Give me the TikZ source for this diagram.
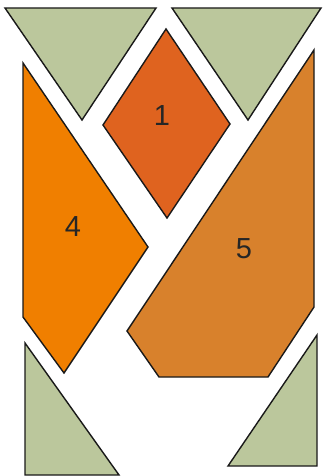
\documentclass[tikz,border=0pt]{standalone}
\usepackage{fontspec}
\setmainfont{Liberation Sans}
\begin{document}
\begin{tikzpicture}[x=1pt,y=-1pt,
  piece/.style={draw=black!90,line width=1.4pt,line join=miter},
  lbl/.style={font=\fontsize{29}{30}\selectfont,text=black!85,inner sep=0pt}]
\definecolor{sage}{HTML}{BBC79C}
\definecolor{dia}{HTML}{DF631F}
\definecolor{orfour}{HTML}{F07F00}
\definecolor{orfive}{HTML}{D8812C}
\useasboundingbox (0,0) rectangle (322,476);
% green triangles
\filldraw[piece,fill=sage] (5,8) -- (156,8) -- (82,120) -- cycle;
\filldraw[piece,fill=sage] (172,8) -- (321,8) -- (248,120) -- cycle;
\filldraw[piece,fill=sage] (25,343) -- (119,475) -- (25,475) -- cycle;
\filldraw[piece,fill=sage] (317,335) -- (317,466) -- (228,466) -- cycle;
% diamond 1
\filldraw[piece,fill=dia] (166,29) -- (230,124) -- (167,218) -- (103,125) -- cycle;
% shape 4
\filldraw[piece,fill=orfour] (23,63) -- (148,247) -- (64,373) -- (23,317) -- cycle;
% shape 5
\filldraw[piece,fill=orfive] (314,50) -- (314,307) -- (268,377) -- (159,377) -- (127,331) -- cycle;
\node[lbl] (l1) at (162,116) {1};
\node[lbl] (l4) at (73,227) {4};
\node[lbl] (l5) at (244,249) {5};
\end{tikzpicture}
\end{document}
